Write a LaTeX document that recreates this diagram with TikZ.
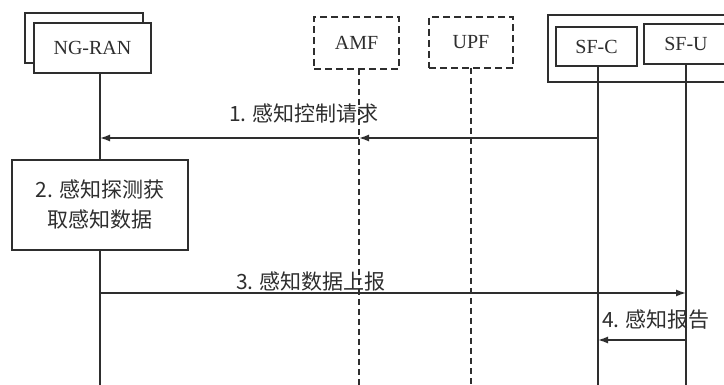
\documentclass[tikz,border=0pt]{standalone}
\usepackage{fontspec}
\setmainfont{Liberation Serif}
\newfontfamily\cjk{Noto Sans CJK SC}
\usetikzlibrary{arrows.meta}
\definecolor{ink}{HTML}{2E2E2E}
\begin{document}
\begin{tikzpicture}[x=1pt,y=-1pt,
  ent/.style={draw=ink,line width=1.4pt,fill=white,font=\fontsize{20}{22}\selectfont,text=ink,inner sep=0pt},
  dent/.style={ent,dash pattern=on 7pt off 4pt},
  life/.style={draw=ink,line width=1.1pt},
  dlife/.style={life,dash pattern=on 6pt off 4pt},
  msg/.style={draw=ink,line width=1.4pt,-{Latex[length=10pt,width=7pt]}},
  lbl/.style={font=\cjk\fontsize{21}{30}\selectfont,text=ink,inner sep=0pt},
]
\useasboundingbox (0,0) rectangle (724,385);
\clip (0,0) rectangle (724,385);
\fill[white] (0,0) rectangle (724,385);
% entities
\node[ent,minimum width=118pt,minimum height=50pt] (ranback) at (84,38) {};
\node[ent,minimum width=117pt,minimum height=50pt] (ran) at (92.5,48) {NG-RAN};
\node[dent,minimum width=85pt,minimum height=52pt] (amf) at (356.5,43) {AMF};
\node[dent,minimum width=84pt,minimum height=51pt] (upf) at (471,42.5) {UPF};
\node[ent,minimum width=192pt,minimum height=67pt] (sf) at (644,48.5) {};
\node[ent,minimum width=81pt,minimum height=39pt] (sfc) at (596.5,46.5) {SF-C};
\node[ent,minimum width=84pt,minimum height=40pt] (sfu) at (686,44) {SF-U};
% lifeline ends
\coordinate (rantop) at (100,73);
\coordinate (ranbot) at (100,385);
\coordinate (amftop) at (359,69);
\coordinate (amfbot) at (359,385);
\coordinate (upftop) at (471,68);
\coordinate (upfbot) at (471,385);
\coordinate (sfctop) at (598,66);
\coordinate (sfcbot) at (598,385);
\coordinate (sfutop) at (686,64);
\coordinate (sfubot) at (686,385);
\draw[life] (rantop) -- (ranbot);
\draw[dlife] (amftop) -- (amfbot);
\draw[dlife] (upftop) -- (upfbot);
\draw[life] (sfctop) -- (sfcbot);
\draw[life] (sfutop) -- (sfubot);
% step 2 box
\node[ent,minimum width=176pt,minimum height=90pt,font=\cjk\fontsize{21}{30}\selectfont,align=center] (s2) at (100,205) {2. 感知探测获\\取感知数据};
% messages
\coordinate (m1c) at (598,138);
\coordinate (m1a) at (359,138);
\coordinate (m1r) at (100,138);
\draw[msg] (m1c) -- (m1a);
\draw[msg] (m1a) -- (m1r);
\node[lbl] (l1) at (304,114) {1. 感知控制请求};
\coordinate (m3r) at (100,293);
\coordinate (m3u) at (686,293);
\draw[msg] (m3r) -- (m3u);
\node[lbl] (l3) at (311,282) {3. 感知数据上报};
\coordinate (m4u) at (686,340);
\coordinate (m4c) at (598,340);
\draw[msg] (m4u) -- (m4c);
\node[lbl] (l4) at (656,320) {4. 感知报告};
\end{tikzpicture}
\end{document}
